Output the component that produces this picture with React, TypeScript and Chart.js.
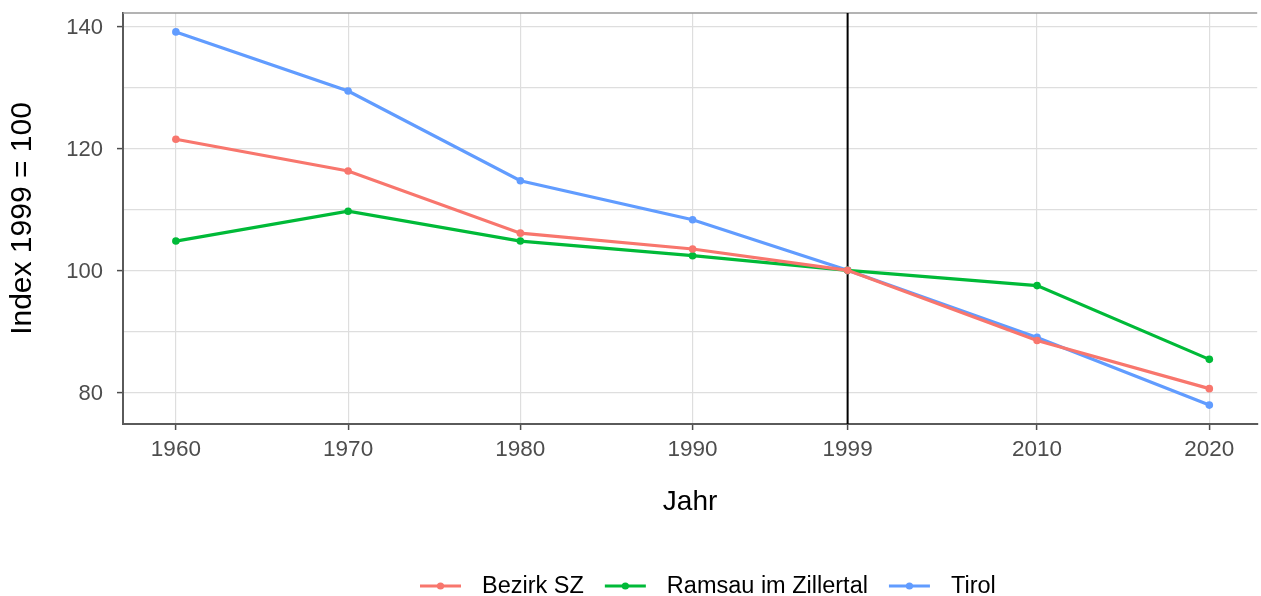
import React, { useEffect, useRef } from "react";
import { Chart, registerables } from "chart.js";

Chart.register(...registerables);

const years = [1960, 1970, 1980, 1990, 1999, 2010, 2020];
const bezirkSZ = [121.5, 116.3, 106.1, 103.5, 100, 88.5, 80.6];
const ramsau = [104.8, 109.7, 104.8, 102.4, 100, 97.5, 85.4];
const tirol = [139.1, 129.4, 114.7, 108.3, 100, 89.0, 77.9];
const yTicks = [80, 90, 100, 110, 120, 130, 140];
const yLabelTicks = [80, 100, 120, 140];
const seriesNames = ["Bezirk SZ", "Ramsau im Zillertal", "Tirol"];
const seriesColors = ["#F8766D", "#00BA38", "#619CFF"];
const refYear = 1999;

const FONT = "'Liberation Sans', Arial, sans-serif";

const overlayPlugin = {
  id: "overlay",
  beforeDatasetsDraw(chart: any) {
    const { ctx, chartArea, scales } = chart;
    ctx.save();
    ctx.strokeStyle = "#9a9a9a";
    ctx.lineWidth = 1.5;
    ctx.beginPath();
    ctx.moveTo(chartArea.left, chartArea.top);
    ctx.lineTo(chartArea.right, chartArea.top);
    ctx.stroke();
    const x = scales.x.getPixelForValue(refYear);
    ctx.strokeStyle = "#000000";
    ctx.lineWidth = 2;
    ctx.beginPath();
    ctx.moveTo(x, chartArea.top);
    ctx.lineTo(x, chartArea.bottom);
    ctx.stroke();
    ctx.restore();
  },
  afterDraw(chart: any) {
    const { ctx } = chart;
    ctx.save();
    ctx.font = `23.5px ${FONT}`;
    const keyW = 41;
    const gap = 21;
    let x = 420;
    const y = 586;
    seriesNames.forEach((n, i) => {
      ctx.strokeStyle = seriesColors[i];
      ctx.fillStyle = seriesColors[i];
      ctx.lineWidth = 3.2;
      ctx.beginPath();
      ctx.moveTo(x, y);
      ctx.lineTo(x + keyW, y);
      ctx.stroke();
      ctx.beginPath();
      ctx.arc(x + keyW / 2, y, 3.6, 0, Math.PI * 2);
      ctx.fill();
      ctx.fillStyle = "#000000";
      ctx.textAlign = "left";
      ctx.textBaseline = "middle";
      ctx.fillText(n, x + keyW + gap, y + 1);
      x += keyW + gap + ctx.measureText(n).width + gap;
    });
    ctx.restore();
  },
};

export default function App() {
  const canvasRef = useRef<HTMLCanvasElement | null>(null);

  useEffect(() => {
    const canvas = canvasRef.current;
    if (!canvas) return;
    const seriesData = [bezirkSZ, ramsau, tirol];
    const chart = new Chart(canvas, {
      type: "line",
      data: {
        datasets: seriesNames.map((name, i) => ({
          label: name,
          data: years.map((yr, j) => ({ x: yr, y: seriesData[i][j] })),
          borderColor: seriesColors[i],
          backgroundColor: seriesColors[i],
          borderWidth: 3.2,
          pointRadius: 3.8,
          pointBorderWidth: 0,
          pointHoverRadius: 3.8,
          tension: 0,
          fill: false,
        })),
      },
      options: {
        responsive: false,
        animation: false,
        devicePixelRatio: 1,
        layout: { padding: { top: 13, right: 0, left: 0, bottom: 0 } },
        plugins: {
          legend: { display: false },
          tooltip: { enabled: false },
          title: { display: false },
        },
        scales: {
          x: {
            type: "linear",
            min: 1956.93,
            max: 2022.78,
            afterBuildTicks: (scale: any) => {
              scale.ticks = years.map((v) => ({ value: v }));
            },
            afterFit: (scale: any) => {
              scale.height = 172;
              scale.paddingLeft = 0;
              scale.paddingRight = 0;
            },
            ticks: {
              autoSkip: false,
              maxRotation: 0,
              color: "#4d4d4d",
              font: { family: FONT, size: 22.5 },
              padding: 6,
              callback: (v: any) => String(v),
            },
            grid: {
              color: "#dedede",
              lineWidth: 1.2,
              tickLength: 6,
              tickColor: "#4d4d4d",
              tickWidth: 1.5,
            },
            border: { display: true, color: "#5a5a5a", width: 2 },
            title: {
              display: true,
              text: "Jahr",
              color: "#000000",
              font: { family: FONT, size: 28 },
              padding: { top: 0, bottom: 77 },
            },
          },
          y: {
            type: "linear",
            min: 74.8,
            max: 142.2,
            afterBuildTicks: (scale: any) => {
              scale.ticks = yTicks.map((v) => ({ value: v }));
            },
            afterFit: (scale: any) => {
              scale.width = 123;
              scale.paddingTop = 0;
              scale.paddingBottom = 0;
            },
            ticks: {
              autoSkip: false,
              color: "#4d4d4d",
              font: { family: FONT, size: 22 },
              padding: 14,
              labelOffset: 2,
              callback: (v: any) => (yLabelTicks.includes(Number(v)) ? String(v) : ""),
            },
            grid: {
              color: "#dedede",
              lineWidth: 1.2,
              tickLength: 6,
              tickColor: (ctx: any) =>
                ctx.tick && yLabelTicks.includes(ctx.tick.value) ? "#4d4d4d" : "rgba(0,0,0,0)",
              tickWidth: 1.5,
            },
            border: { display: true, color: "#5a5a5a", width: 2 },
            title: {
              display: true,
              text: "Index 1999 = 100",
              color: "#000000",
              font: { family: FONT, size: 30 },
              padding: { top: 5, bottom: 0 },
            },
          },
        },
      },
      plugins: [overlayPlugin],
    });
    return () => chart.destroy();
  }, []);

  return (
    <div style={{ position: "fixed", left: 0, top: 0, width: 1261, height: 596, background: "#ffffff" }}>
      <canvas ref={canvasRef} width={1261} height={596} style={{ display: "block" }} />
    </div>
  );
}
